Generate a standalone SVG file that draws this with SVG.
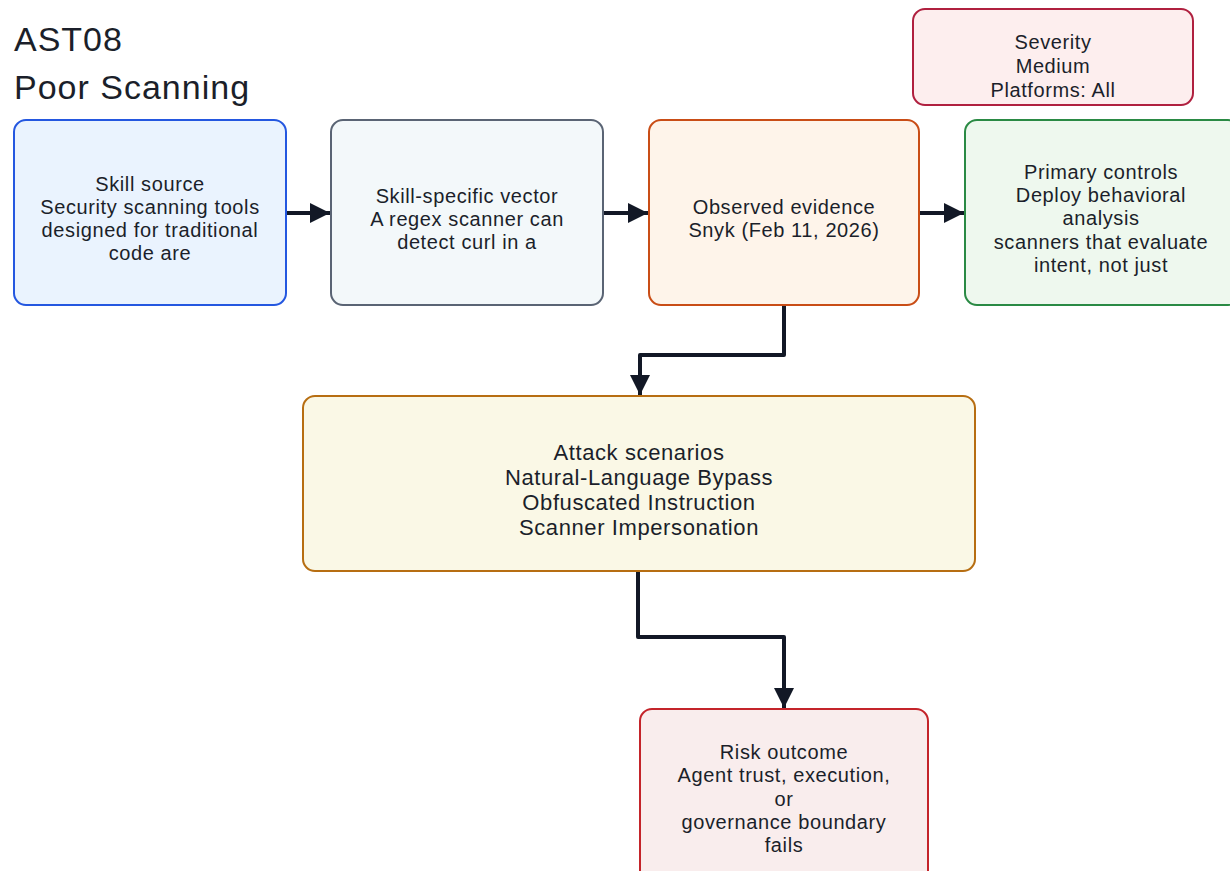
<svg xmlns="http://www.w3.org/2000/svg" width="1230" height="871" viewBox="0 0 1230 871">
  <style>
    text { font-family: "Liberation Sans", Arial, sans-serif; fill: #1b1f2a; }
    .title { font-size: 34px; letter-spacing: 1px; }
    .lbl { font-size: 20px; letter-spacing: 0.6px; text-anchor: middle; }
    .lbl-lg { font-size: 22px; letter-spacing: 0.6px; text-anchor: middle; }
    .box { stroke-width: 2; }
    .wire { fill: none; stroke: #121826; stroke-width: 4; stroke-linejoin: round; }
  </style>
  <defs>
    <marker id="arrow" viewBox="0 0 10 10" refX="10" refY="5" markerWidth="5" markerHeight="5" orient="auto" markerUnits="strokeWidth">
      <path d="M0,0 L10,5 L0,10 Z" fill="#121826"/>
    </marker>
  </defs>

  <rect width="1230" height="871" fill="#ffffff"/>

  <g id="title">
    <text class="title" x="14" y="51">AST08</text>
    <text class="title" x="14" y="99">Poor Scanning</text>
  </g>

  <g id="connectors">
    <path class="wire" d="M286,213 L330,213" marker-end="url(#arrow)"/>
    <path class="wire" d="M603,213 L648,213" marker-end="url(#arrow)"/>
    <path class="wire" d="M919,213 L964,213" marker-end="url(#arrow)"/>
    <path class="wire" d="M784,305 L784,355 L640,355 L640,395" marker-end="url(#arrow)"/>
    <path class="wire" d="M638,571 L638,637 L784,637 L784,708" marker-end="url(#arrow)"/>
  </g>

  <g id="severity">
    <rect class="box" x="913" y="9" width="280" height="96" rx="12" fill="#fdeeee" stroke="#b0203f"/>
    <text class="lbl" x="1053" y="49">Severity</text>
    <text class="lbl" x="1053" y="73">Medium</text>
    <text class="lbl" x="1053" y="97">Platforms: All</text>
  </g>

  <g id="skill-source">
    <rect class="box" x="14" y="120" width="272" height="185" rx="12" fill="#eaf3fe" stroke="#2457e0"/>
    <text class="lbl" x="150" y="191">Skill source</text>
    <text class="lbl" x="150" y="214">Security scanning tools</text>
    <text class="lbl" x="150" y="237">designed for traditional</text>
    <text class="lbl" x="150" y="260">code are</text>
  </g>

  <g id="skill-vector">
    <rect class="box" x="331" y="120" width="272" height="185" rx="12" fill="#f3f8fa" stroke="#5a6474"/>
    <text class="lbl" x="467" y="203">Skill-specific vector</text>
    <text class="lbl" x="467" y="226">A regex scanner can</text>
    <text class="lbl" x="467" y="249">detect curl in a</text>
  </g>

  <g id="evidence">
    <rect class="box" x="649" y="120" width="270" height="185" rx="12" fill="#fef4ea" stroke="#c94d16"/>
    <text class="lbl" x="784" y="214">Observed evidence</text>
    <text class="lbl" x="784" y="237">Snyk (Feb 11, 2026)</text>
  </g>

  <g id="controls">
    <rect class="box" x="965" y="120" width="275" height="185" rx="12" fill="#eef8ee" stroke="#2a8a44"/>
    <text class="lbl" x="1101" y="179">Primary controls</text>
    <text class="lbl" x="1101" y="202">Deploy behavioral</text>
    <text class="lbl" x="1101" y="225">analysis</text>
    <text class="lbl" x="1101" y="249">scanners that evaluate</text>
    <text class="lbl" x="1101" y="272">intent, not just</text>
  </g>

  <g id="attack">
    <rect class="box" x="303" y="396" width="672" height="175" rx="12" fill="#faf8e6" stroke="#b76e12"/>
    <text class="lbl-lg" x="639" y="460">Attack scenarios</text>
    <text class="lbl-lg" x="639" y="485">Natural-Language Bypass</text>
    <text class="lbl-lg" x="639" y="510">Obfuscated Instruction</text>
    <text class="lbl-lg" x="639" y="535">Scanner Impersonation</text>
  </g>

  <g id="risk">
    <rect class="box" x="640" y="709" width="288" height="175" rx="12" fill="#f9eded" stroke="#c4242a"/>
    <text class="lbl" x="784" y="759">Risk outcome</text>
    <text class="lbl" x="784" y="782">Agent trust, execution,</text>
    <text class="lbl" x="784" y="806">or</text>
    <text class="lbl" x="784" y="829">governance boundary</text>
    <text class="lbl" x="784" y="852">fails</text>
  </g>
</svg>
